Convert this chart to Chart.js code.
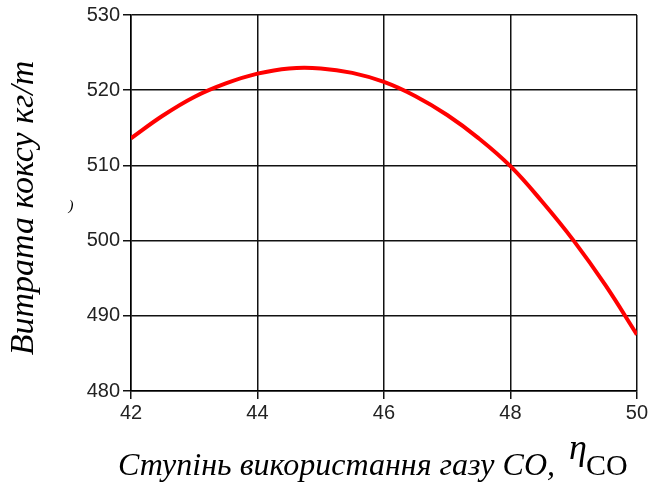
<!DOCTYPE html>
<html>
<head>
<meta charset="utf-8">
<script src="https://cdn.jsdelivr.net/npm/chart.js@4/dist/chart.umd.min.js"></script>
<style>
  html, body { margin: 0; padding: 0; background: #fff; }
  #wrap { width: 650px; height: 486px; position: relative; }
</style>
</head>
<body>
<div id="wrap"><canvas id="c" width="650" height="486"></canvas></div>
<script>
// Degree of CO gas utilisation, %
const gasUse = [42, 42.5, 43, 43.5, 44, 44.5, 45, 45.5, 46, 46.5, 47, 47.5, 48, 48.5, 49, 49.5, 50];
// Coke consumption, kg/t
const cokeRate = [513.6, 516.6, 519.1, 520.9, 522.2, 522.9, 522.9, 522.3, 521.1, 519.2, 516.7, 513.6, 509.9, 505.2, 500.0, 494.1, 487.5];
const xTicks = [42, 44, 46, 48, 50];
const yTicks = [480, 490, 500, 510, 520, 530];

const yTitle = 'Витрата коксу кг/т';
const xTitle = 'Ступінь використання газу СО, ';
const etaSym = 'η';
const etaSub = 'CO';

const points = gasUse.map((x, i) => ({ x, y: cokeRate[i] }));

const titles = {
  id: 'titles',
  afterDraw(chart) {
    const ctx = chart.ctx;
    ctx.save();
    ctx.fillStyle = '#000';
    // vertical axis title
    ctx.translate(33, 208);
    ctx.rotate(-Math.PI / 2);
    ctx.font = 'italic 34px "Liberation Serif"';
    ctx.textAlign = 'center';
    ctx.textBaseline = 'alphabetic';
    ctx.fillText(yTitle, 0, 0);
    ctx.restore();

    // a small stray mark beside the vertical title
    ctx.save();
    ctx.font = 'italic 15px "Liberation Serif"';
    ctx.fillStyle = '#000';
    ctx.textAlign = 'center';
    ctx.fillText(')', 71, 210);
    ctx.restore();

    // horizontal axis title with η_CO symbol
    ctx.save();
    ctx.fillStyle = '#000';
    ctx.textBaseline = 'alphabetic';
    ctx.textAlign = 'left';
    const base = 475;
    let x = 118;
    ctx.font = 'italic 32px "Liberation Serif"';
    ctx.fillText(xTitle, x, base);
    x += ctx.measureText(xTitle).width + 6;
    ctx.font = 'italic 36px "Liberation Serif"';
    ctx.fillText(etaSym, x, base - 16);
    x += ctx.measureText(etaSym).width - 1;
    ctx.font = '30px "Liberation Serif"';
    ctx.fillText(etaSub, x, base);
    ctx.restore();
  }
};

new Chart(document.getElementById('c'), {
  type: 'line',
  data: {
    datasets: [{
      data: points,
      borderColor: '#ff0000',
      borderWidth: 4,
      pointRadius: 0,
      tension: 0.4,
      fill: false
    }]
  },
  options: {
    responsive: false,
    animation: false,
    events: [],
    layout: { padding: { left: 0, top: 14, right: 12, bottom: 0 } },
    plugins: { legend: { display: false }, tooltip: { enabled: false }, title: { display: false } },
    scales: {
      x: {
        type: 'linear',
        min: 42, max: 50,
        afterBuildTicks(s) { s.ticks = xTicks.map(v => ({ value: v })); },
        afterFit(s) { s.height = 95; },
        grid: { color: '#111', lineWidth: 1.5, tickLength: 8, drawTicks: true },
        border: { color: '#000', width: 1.5 },
        ticks: {
          color: '#222',
          font: { family: '"Liberation Sans"', size: 20 },
          padding: 2,
          maxRotation: 0,
          autoSkip: false
        }
      },
      y: {
        min: 480, max: 530,
        afterBuildTicks(s) { s.ticks = yTicks.map(v => ({ value: v })); },
        afterFit(s) { s.width = 131; },
        grid: { color: '#111', lineWidth: 1.5, tickLength: 8 },
        border: { color: '#000', width: 1.5 },
        ticks: {
          color: '#222',
          font: { family: '"Liberation Sans"', size: 20 },
          padding: 3
        }
      }
    }
  },
  plugins: [titles]
});
</script>
</body>
</html>
